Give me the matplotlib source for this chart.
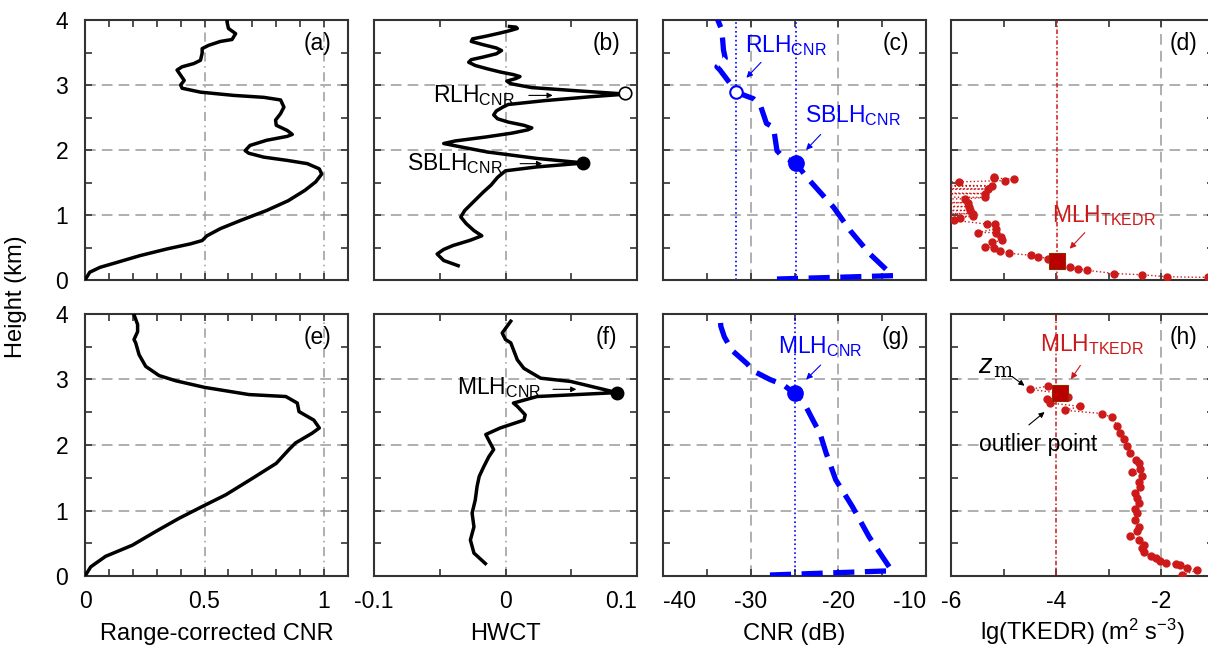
import matplotlib
matplotlib.use("Agg")
import matplotlib.pyplot as plt
import numpy as np

plt.rcParams['font.family'] = ['Liberation Sans', 'DejaVu Sans']
plt.rcParams['mathtext.fontset'] = 'custom'
plt.rcParams['mathtext.rm'] = 'Liberation Sans'
plt.rcParams['mathtext.it'] = 'Liberation Sans:italic'

# ---------------- data ----------------
# (a) range-corrected CNR, case 1
a_h = [0.0, 0.12, 0.195, 0.27, 0.375, 0.478, 0.555, 0.607, 0.68, 0.79, 0.915, 1.07, 1.22, 1.38, 1.51,
       1.63, 1.71, 1.79, 1.84, 1.89, 1.95, 1.99, 2.07, 2.15, 2.21, 2.24, 2.30, 2.38, 2.46, 2.56, 2.66,
       2.77, 2.81, 2.84, 2.89, 2.95, 3.0, 3.07, 3.15, 3.23, 3.28, 3.33, 3.38, 3.49, 3.56, 3.61, 3.67,
       3.70, 3.79, 3.87, 3.97, 4.0]
a_v = [0.0, 0.02, 0.063, 0.133, 0.23, 0.343, 0.44, 0.49, 0.51, 0.566, 0.65, 0.76, 0.85, 0.92, 0.965,
       0.99, 0.98, 0.93, 0.846, 0.748, 0.685, 0.67, 0.69, 0.76, 0.846, 0.867, 0.846, 0.80, 0.797, 0.818, 0.832,
       0.818, 0.748, 0.622, 0.483, 0.406, 0.40, 0.415, 0.40, 0.385, 0.406, 0.455, 0.483, 0.49, 0.49, 0.517, 0.566,
       0.615, 0.63, 0.60, 0.594, 0.594]

# (b) HWCT, case 1
b_h = [0.22, 0.30, 0.40, 0.47, 0.53, 0.61, 0.68, 0.76, 0.87, 0.97, 1.07, 1.15, 1.25, 1.35, 1.46, 1.58,
       1.68, 1.74, 1.80, 1.87, 1.97, 2.04, 2.10, 2.14, 2.20, 2.26, 2.31, 2.34, 2.38, 2.43, 2.48, 2.54,
       2.60, 2.66, 2.70, 2.76, 2.82, 2.86, 2.91, 2.96, 3.02, 3.06, 3.10, 3.13, 3.16, 3.20, 3.25, 3.30,
       3.35, 3.39, 3.43, 3.48, 3.53, 3.57, 3.62, 3.67, 3.71, 3.75, 3.80, 3.84, 3.87, 3.89, 3.90]
b_v = [-0.036, -0.047, -0.052, -0.047, -0.040, -0.027, -0.018, -0.024, -0.030, -0.034, -0.031, -0.027,
       -0.022, -0.017, -0.011, -0.006, 0.000, 0.024, 0.060, 0.024, -0.014, -0.032, -0.047, -0.038, -0.015,
       0.005, 0.017, 0.020, 0.014, 0.002, -0.006, -0.009, -0.007, -0.002, 0.002, 0.030, 0.065, 0.092, 0.055,
       0.020, 0.004, 0.001, 0.008, 0.011, 0.006, -0.004, -0.014, -0.023, -0.028, -0.026, -0.017, -0.007,
       -0.003, -0.007, -0.017, -0.026, -0.025, -0.015, -0.004, 0.004, 0.009, 0.008, 0.003]

# (c) CNR (dB), case 1
c_h = [0.015, 0.067, 0.08, 0.40, 0.76, 1.12, 1.58, 1.80, 1.89, 1.99, 2.35, 2.41, 2.69, 2.79, 2.89, 2.98,
       3.23, 3.28, 3.41, 3.54, 3.70, 3.85, 3.97, 4.05]
c_v = [-27.0, -13.7, -13.9, -16.4, -18.65, -20.55, -23.6, -24.86, -26.3, -27.0, -27.4, -28.2, -28.9, -29.7,
       -31.67, -32.1, -33.5, -33.85, -32.9, -33.1, -33.2, -33.3, -33.66, -33.9]

# (d) lg(TKEDR), case 1 (values < -6 lie off the axis)
d_h = [0.04, 0.05, 0.08, 0.10, 0.15, 0.17, 0.20, 0.29, 0.33, 0.36, 0.38, 0.41, 0.45, 0.50, 0.51, 0.58,
       0.61, 0.66, 0.73, 0.73, 0.79, 0.86, 0.86, 0.92, 0.94, 0.96, 0.98, 1.00, 1.02, 1.04, 1.07, 1.09,
       1.11, 1.13, 1.15, 1.17, 1.19, 1.21, 1.23, 1.25, 1.27, 1.29, 1.31, 1.33, 1.36, 1.38, 1.40, 1.42,
       1.45, 1.47, 1.49, 1.51, 1.53, 1.55, 1.57, 1.59]
d_v = [-1.12, -1.89, -2.36, -2.90, -3.42, -3.58, -3.74, -3.98, -4.16, -4.35, -4.47, -4.89, -5.07, -5.19,
       -5.35, -5.22, -5.03, -5.05, -5.14, -5.48, -5.15, -5.17, -5.32, -5.95, -8.0, -5.83, -5.58, -8.0,
       -5.58, -8.0, -5.64, -8.0, -8.0, -5.66, -8.0, -8.0, -5.67, -8.0, -8.0, -5.73, -5.35, -8.0, -8.0,
       -5.35, -8.0, -8.0, -5.30, -8.0, -5.22, -8.0, -8.0, -5.84, -4.97, -4.81, -5.19, -5.19]

# (e) range-corrected CNR, case 2
e_h = [0.0, 0.14, 0.30, 0.47, 0.68, 0.88, 1.06, 1.24, 1.49, 1.72, 1.93, 2.03, 2.18, 2.26, 2.38, 2.51,
       2.64, 2.74, 2.77, 2.88, 2.98, 3.06, 3.20, 3.38, 3.56, 3.61, 3.73, 3.84, 3.99]
e_v = [0.0, 0.024, 0.086, 0.198, 0.296, 0.393, 0.49, 0.589, 0.70, 0.80, 0.853, 0.88, 0.95, 0.98, 0.957,
       0.895, 0.888, 0.84, 0.686, 0.50, 0.38, 0.31, 0.254, 0.226, 0.212, 0.205, 0.22, 0.22, 0.205]

# (f) HWCT, case 2
f_h = [0.19, 0.35, 0.55, 0.75, 0.96, 1.16, 1.37, 1.52, 1.67, 1.82, 1.93, 2.16, 2.26, 2.38, 2.46, 2.59,
       2.64, 2.74, 2.80, 2.97, 3.02, 3.17, 3.30, 3.56, 3.61, 3.71, 3.89]
f_v = [-0.0153, -0.024, -0.0267, -0.024, -0.0254, -0.023, -0.0216, -0.020, -0.0165, -0.0127, -0.009,
       -0.015, -0.004, 0.014, 0.015, 0.009, 0.006, 0.024, 0.0847, 0.0496, 0.0267, 0.014, 0.009, 0.004,
       0.0, -0.0025, 0.004]

# (g) CNR (dB), case 2
g_h = [0.015, 0.08, 0.30, 0.60, 1.06, 1.47, 1.88, 2.18, 2.38, 2.69, 2.79, 2.92, 3.00, 3.13, 3.24, 3.43,
       3.51, 3.65, 3.81, 3.95, 4.04]
g_v = [-27.8, -13.9, -15.0, -16.5, -18.4, -20.3, -21.4, -22.1, -22.9, -24.1, -25.0, -26.3, -27.8, -29.7,
       -30.4, -32.0, -32.4, -33.0, -33.4, -33.5, -33.9]

# (h) lg(TKEDR), case 2
h_h = [0.015, 0.09, 0.12, 0.17, 0.18, 0.20, 0.23, 0.27, 0.31, 0.36, 0.42, 0.47, 0.55, 0.61, 0.68, 0.75,
       0.85, 0.96, 1.03, 1.11, 1.19, 1.26, 1.36, 1.44, 1.52, 1.59, 1.64, 1.72, 1.77, 1.88, 1.99, 2.09,
       2.19, 2.29, 2.42, 2.48, 2.53, 2.59, 2.64, 2.70, 2.74, 2.79, 2.85, 2.90]
h_v = [-1.61, -1.32, -1.51, -1.64, -1.73, -1.92, -2.02, -2.11, -2.20, -2.34, -2.37, -2.34, -2.43, -2.59,
       -2.46, -2.43, -2.50, -2.46, -2.50, -2.43, -2.46, -2.50, -2.40, -2.43, -2.37, -2.56, -2.40, -2.43,
       -2.49, -2.59, -2.65, -2.71, -2.78, -2.84, -2.94, -3.13, -3.83, -3.54, -4.11, -4.18, -3.77, -3.92,
       -4.50, -4.15]

# layer heights / markers
rlh1_cnr, rlh1_h = -31.67, 2.89
sblh1_cnr, sblh1_h = -24.86, 1.80
rlh1_hw, sblh1_hw = 0.091, 0.059
mlh1_tke, mlh1_h = -3.98, 0.29
mlh2_hw, mlh2_h = 0.0847, 2.80
mlh2_cnr = -25.0
mlh2_tke, mlh2_htke = -3.92, 2.79

# ---------------- figure ----------------
W, H = 1208, 646
fig = plt.figure(figsize=(W / 100, H / 100), dpi=100)
lefts = [85, 374, 663, 951]
aw = 263
rows = [(20, 280), (314, 576)]

BLUE = '#0000ff'
RED = '#cc1a1a'
GRID = '#9a9a9a'
FS = 16.5
FSL = 17

xlims = [(0, 1.1), (-0.1, 0.1), (-40, -10), (-6, -1)]
xticks = [np.round(np.arange(0, 1.1001, 0.1), 2), np.round(np.arange(-0.1, 0.1001, 0.05), 3),
          np.arange(-40, -9, 5), np.arange(-6, -0.9, 1)]
xlab_vals = [[0, 0.5, 1], [-0.1, 0, 0.1], [-40, -30, -20, -10], [-6, -4, -2]]
xlab_txt = [['0', '0.5', '1'], ['-0.1', '0', '0.1'], ['-40', '-30', '-20', '-10'], ['-6', '-4', '-2']]
xlab_ha = [{}, {'0.1': 'right'}, {'-40': 'left', '-10': 'right'}, {}]
vgrid = [[0.5, 1.0], [0.0], [-30, -20], [-2]]
vgrid_ls = [(0, (6, 3, 1, 3)), (0, (6, 3, 1, 3)), (0, (7, 4)), (0, (7, 4))]
xlabels = ['Range-corrected CNR', 'HWCT', 'CNR (dB)', r'lg(TKEDR) (m$^2$ s$^{-3}$)']
letters = [['(a)', '(b)', '(c)', '(d)'], ['(e)', '(f)', '(g)', '(h)']]

axes = [[None] * 4, [None] * 4]
for r, (top, bot) in enumerate(rows):
    for c, lx in enumerate(lefts):
        ax = fig.add_axes([lx / W, (H - bot) / H, aw / W, (bot - top) / H])
        axes[r][c] = ax
        ax.set_xlim(*xlims[c])
        ax.set_ylim(0, 4)
        for yy in [1, 2, 3]:
            ax.axhline(yy, color=GRID, lw=1.1, ls=(0, (7, 4)), zorder=0)
        for xx in vgrid[c]:
            ax.axvline(xx, color=GRID, lw=1.1, ls=vgrid_ls[c], zorder=0)
        ax.set_xticks(xticks[c])
        labs = []
        for t in xticks[c]:
            s = ''
            for v, txt in zip(xlab_vals[c], xlab_txt[c]):
                if abs(t - v) < 1e-6:
                    s = txt
            labs.append(s)
        ax.set_xticklabels(labs if r == 1 else [''] * len(labs))
        if r == 1:
            for tl in ax.get_xticklabels():
                if tl.get_text() in xlab_ha[c]:
                    tl.set_ha(xlab_ha[c][tl.get_text()])
        ax.set_yticks(np.arange(0, 4.01, 0.5))
        if c == 0:
            ax.set_yticklabels(['0', '', '1', '', '2', '', '3', '', '4'])
        else:
            ax.set_yticklabels([''] * 9)
        ax.tick_params(direction='in', top=True, right=True, length=5, width=1.2,
                       color='#333333', labelsize=FS, pad=10)
        ax.tick_params(axis='y', pad=12)
        for sp in ax.spines.values():
            sp.set_color('#333333')
            sp.set_linewidth(1.5)
        if r == 1:
            fig.text((lx + aw / 2) / W, 1 - 640 / H, xlabels[c], fontsize=FSL,
                     ha='center', va='baseline')
        ax.text(0.885, 0.91, letters[r][c], transform=ax.transAxes, fontsize=FS,
                ha='center', va='center', zorder=5)

fig.text(16 / W, 1 - 297 / H, 'Height (km)', rotation=90, fontsize=FSL, ha='center', va='center')

# ---- (a) / (e)
axes[0][0].plot(a_v, a_h, color='black', lw=2.5, zorder=3)
axes[1][0].plot(e_v, e_h, color='black', lw=2.5, zorder=3)

# ---- (b)
ax = axes[0][1]
ax.plot(b_v, b_h, color='black', lw=2.5, zorder=3)
ax.plot([rlh1_hw], [rlh1_h - 0.01], 'o', ms=9, mfc='white', mec='black', mew=1.2, zorder=4)
ax.plot([sblh1_hw], [sblh1_h], 'o', ms=9, color='black', zorder=4)
ax.text(0.007, 2.84, 'RLH$_{\\rm CNR}$', ha='right', va='center', fontsize=FS, zorder=5)
ax.annotate('', xy=(0.038, 2.84), xytext=(0.0156, 2.84),
            arrowprops=dict(arrowstyle='-|>', color='black', lw=0.8, mutation_scale=8))
ax.text(-0.002, 1.79, 'SBLH$_{\\rm CNR}$', ha='right', va='center', fontsize=FS, zorder=5)
ax.annotate('', xy=(0.030, 1.79), xytext=(0.009, 1.79),
            arrowprops=dict(arrowstyle='-|>', color='black', lw=0.8, mutation_scale=8))

# ---- (c)
ax = axes[0][2]
ax.plot(c_v, c_h, color=BLUE, lw=3.8, ls=(0, (4, 2)), zorder=3)
ax.axvline(rlh1_cnr, color=BLUE, lw=1.2, ls=':', zorder=2)
ax.axvline(sblh1_cnr, color=BLUE, lw=1.2, ls=':', zorder=2)
ax.plot([rlh1_cnr], [rlh1_h], 'o', ms=9, mfc='white', mec=BLUE, mew=1.5, zorder=4)
ax.plot([sblh1_cnr], [sblh1_h], 'o', ms=11, color=BLUE, zorder=4)
ax.text(-30.65, 3.61, 'RLH$_{\\rm CNR}$', color=BLUE, ha='left', va='center', fontsize=FS, zorder=5)
ax.annotate('', xy=(-30.7, 3.08), xytext=(-28.6, 3.38),
            arrowprops=dict(arrowstyle='-|>', color=BLUE, lw=0.8, mutation_scale=9))
ax.text(-23.8, 2.53, 'SBLH$_{\\rm CNR}$', color=BLUE, ha='left', va='center', fontsize=FS, zorder=5)
ax.annotate('', xy=(-23.9, 1.97), xytext=(-21.8, 2.27),
            arrowprops=dict(arrowstyle='-|>', color=BLUE, lw=0.8, mutation_scale=9))

# ---- (d)
ax = axes[0][3]
ax.axvline(mlh1_tke, color=RED, lw=1.1, ls=(0, (3, 1.5, 1, 1.5)), zorder=2)
ax.plot(d_v, d_h, color=RED, lw=1.0, ls=':', marker='o', ms=5, zorder=3)
ax.plot([mlh1_tke], [mlh1_h], 's', ms=11, color='#b80000', mec='#8a3000', mew=0.8, zorder=4)
ax.text(-4.08, 0.99, 'MLH$_{\\rm TKEDR}$', color=RED, ha='left', va='center', fontsize=FS, zorder=5)
ax.annotate('', xy=(-3.78, 0.45), xytext=(-3.42, 0.76),
            arrowprops=dict(arrowstyle='-|>', color=RED, lw=0.8, mutation_scale=9))

# ---- (f)
ax = axes[1][1]
ax.plot(f_v, f_h, color='black', lw=2.5, zorder=3)
ax.plot([mlh2_hw], [mlh2_h], 'o', ms=9, color='black', zorder=4)
ax.text(-0.037, 2.87, 'MLH$_{\\rm CNR}$', ha='left', va='center', fontsize=FS, zorder=5)
ax.annotate('', xy=(0.056, 2.85), xytext=(0.034, 2.85),
            arrowprops=dict(arrowstyle='-|>', color='black', lw=0.8, mutation_scale=8))

# ---- (g)
ax = axes[1][2]
ax.plot(g_v, g_h, color=BLUE, lw=3.8, ls=(0, (4, 2)), zorder=3)
ax.axvline(mlh2_cnr, color=BLUE, lw=1.2, ls=':', zorder=2)
ax.plot([mlh2_cnr], [mlh2_h], 'o', ms=11, color=BLUE, zorder=4)
ax.text(-26.9, 3.50, 'MLH$_{\\rm CNR}$', color=BLUE, ha='left', va='center', fontsize=FS, zorder=5)
ax.annotate('', xy=(-23.9, 2.97), xytext=(-21.8, 3.25),
            arrowprops=dict(arrowstyle='-|>', color=BLUE, lw=0.8, mutation_scale=9))

# ---- (h)
ax = axes[1][3]
ax.axvline(mlh2_tke - 0.08, color=RED, lw=1.1, ls=(0, (3, 1.5, 1, 1.5)), zorder=2)
ax.plot(h_v, h_h, color=RED, lw=1.0, ls=':', marker='o', ms=5, zorder=3)
ax.plot([mlh2_tke], [mlh2_htke], 's', ms=11, color='#b80000', mec='#8a3000', mew=0.8, zorder=4)
ax.text(-4.30, 3.53, 'MLH$_{\\rm TKEDR}$', color=RED, ha='left', va='center', fontsize=FS, zorder=5)
ax.annotate('', xy=(-3.75, 2.97), xytext=(-3.51, 3.25),
            arrowprops=dict(arrowstyle='-|>', color=RED, lw=0.8, mutation_scale=9))
ax.text(-5.48, 3.22, r'$z$', fontsize=FS + 3, family='DejaVu Serif', style='italic',
        ha='left', va='center', zorder=5)
ax.text(-5.20, 3.12, 'm', fontsize=FS - 2, family='DejaVu Serif', ha='left', va='center', zorder=5)
ax.annotate('', xy=(-4.56, 2.88), xytext=(-4.88, 3.07),
            arrowprops=dict(arrowstyle='-|>', color='black', lw=0.8, mutation_scale=8))
ax.text(-5.47, 2.0, 'outlier point', ha='left', va='center', fontsize=FS, zorder=5)
ax.annotate('', xy=(-4.18, 2.53), xytext=(-4.56, 2.28),
            arrowprops=dict(arrowstyle='-|>', color='black', lw=0.8, mutation_scale=8))

fig.savefig('out.png', dpi=100)
